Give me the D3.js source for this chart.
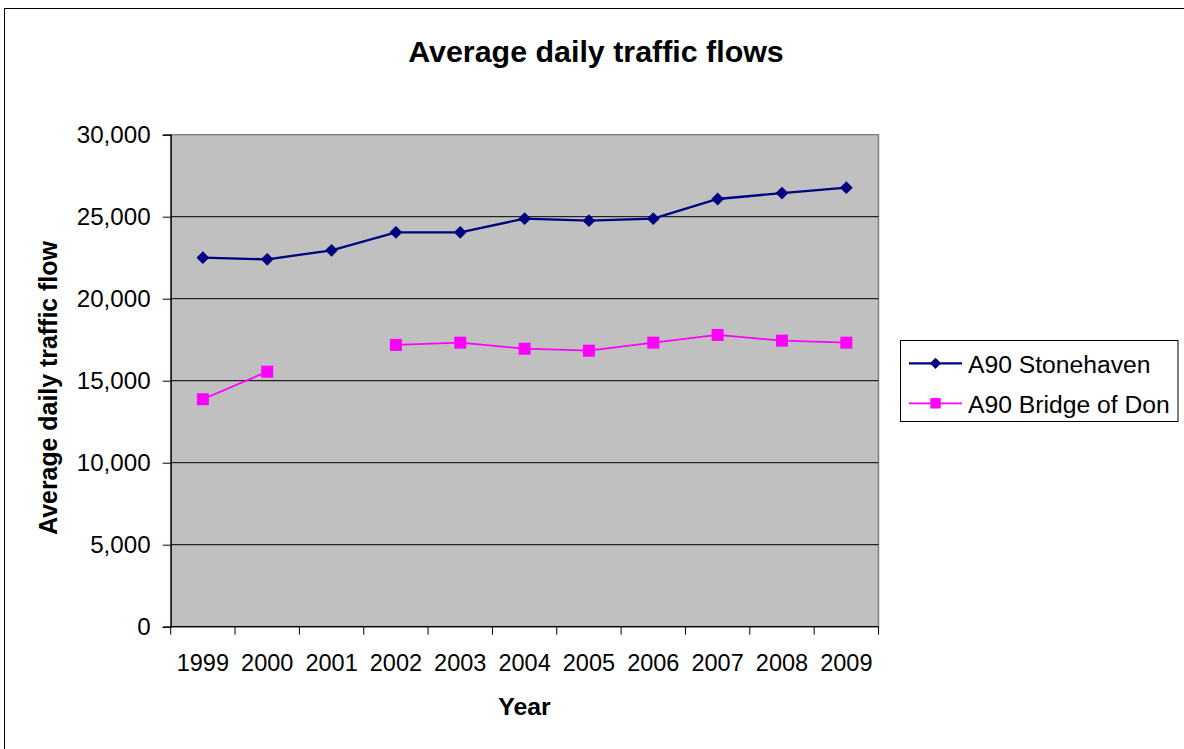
<!DOCTYPE html>
<html>
<head>
<meta charset="utf-8">
<script src="https://cdn.jsdelivr.net/npm/d3@7"></script>
<style>
  html, body { margin: 0; padding: 0; background: #fff; }
  svg { display: block; font-family: "Liberation Sans", Arial, sans-serif; }
</style>
</head>
<body>
<svg id="chart" width="1184" height="749"></svg>
<script>
const years = ["1999","2000","2001","2002","2003","2004","2005","2006","2007","2008","2009"];
const stonehaven = [22500, 22400, 22950, 24050, 24050, 24880, 24760, 24880, 26080, 26440, 26770];
const bridgeOfDon = [13870, 15550, null, 17180, 17320, 16950, 16830, 17320, 17790, 17440, 17320];
const yTicks = [0, 5000, 10000, 15000, 20000, 25000, 30000];
const seriesNames = ["A90 Stonehaven", "A90 Bridge of Don"];

const svg = d3.select("#chart");

// outer chart border (only top/left visible in the frame)
svg.append("rect").attr("x", 4.5).attr("y", 8.5).attr("width", 1300).attr("height", 900)
  .attr("fill", "none").attr("stroke", "#000").attr("stroke-width", 1);

const pL = 170.7, pR = 878.5, pT = 134.7, pB = 626.7;
const x = d3.scaleBand().domain(years).range([pL, pR]).padding(0);
const y = d3.scaleLinear().domain([0, 30000]).range([pB, pT]);

// plot background
svg.append("rect").attr("x", pL).attr("y", pT).attr("width", pR - pL).attr("height", pB - pT)
  .attr("fill", "#C0C0C0").attr("stroke", "#808080").attr("stroke-width", 1.5);

// gridlines
svg.append("g").selectAll("line").data(yTicks.filter(d => d > 0 && d < 30000)).join("line")
  .attr("x1", pL).attr("x2", pR)
  .attr("y1", d => y(d)).attr("y2", d => y(d))
  .attr("stroke", "#000").attr("stroke-width", 1);

// y axis
const yAxis = d3.axisLeft(y).tickValues(yTicks).tickFormat(d3.format(",")).tickSizeOuter(0).tickSize(8).tickPadding(12);
const gy = svg.append("g").attr("transform", `translate(${pL},0)`).call(yAxis);
gy.select(".domain").attr("stroke", "#000").attr("stroke-width", 1.2);
gy.selectAll(".tick line").attr("stroke", "#000");
gy.selectAll(".tick text").attr("font-size", 24.2).attr("fill", "#000")
  .attr("font-family", "'Liberation Sans', Arial, sans-serif").attr("dy", "0.34em");

// x axis
const gx = svg.append("g");
gx.append("line").attr("x1", pL).attr("x2", pR).attr("y1", pB).attr("y2", pB)
  .attr("stroke", "#000").attr("stroke-width", 1.2);
const tickPos = years.map(d => x(d)).concat([x.range()[1]]);
gx.selectAll("line.tk").data(tickPos).join("line").attr("class", "tk")
  .attr("x1", d => d).attr("x2", d => d).attr("y1", pB).attr("y2", pB + 8)
  .attr("stroke", "#000").attr("stroke-width", 1);
gx.selectAll("text").data(years).join("text")
  .attr("x", d => x(d) + x.bandwidth() / 2).attr("y", 671)
  .attr("text-anchor", "middle").attr("font-size", 23.5).attr("fill", "#000")
  .text(d => d);

// lines
const cx = (d, i) => x(years[i]) + x.bandwidth() / 2;
const line = d3.line().defined(d => d != null).x(cx).y(d => y(d));

svg.append("path").datum(bridgeOfDon).attr("d", line)
  .attr("fill", "none").attr("stroke", "#FF00FF").attr("stroke-width", 1.8);
svg.append("path").datum(stonehaven).attr("d", line)
  .attr("fill", "none").attr("stroke", "#000080").attr("stroke-width", 2.3);

const diamond = s => `M0,${-s}L${s},0L0,${s}L${-s},0Z`;
svg.append("g").selectAll("path").data(stonehaven).join("path")
  .attr("transform", (d, i) => `translate(${cx(d, i)},${y(d)})`)
  .attr("d", diamond(6.4)).attr("fill", "#000080");

const bd = bridgeOfDon.map((v, i) => ({v, i})).filter(d => d.v != null);
svg.append("g").selectAll("rect").data(bd).join("rect")
  .attr("x", d => cx(d.v, d.i) - 6).attr("y", d => y(d.v) - 6)
  .attr("width", 12).attr("height", 12).attr("fill", "#FF00FF");

// title
svg.append("text").attr("x", 596).attr("y", 61.5).attr("text-anchor", "middle")
  .attr("font-size", 30.4).attr("font-weight", "bold").attr("fill", "#000")
  .text("Average daily traffic flows");

// axis titles
svg.append("text").attr("transform", "translate(57,388) rotate(-90)").attr("text-anchor", "middle")
  .attr("font-size", 24.9).attr("font-weight", "bold").attr("fill", "#000")
  .text("Average daily traffic flow");
svg.append("text").attr("x", 524.5).attr("y", 715).attr("text-anchor", "middle")
  .attr("font-size", 24.8).attr("font-weight", "bold").attr("fill", "#000")
  .text("Year");

// legend
const lg = svg.append("g");
lg.append("rect").attr("x", 900.5).attr("y", 340.5).attr("width", 277.5).attr("height", 81)
  .attr("fill", "#fff").attr("stroke", "#000").attr("stroke-width", 1);
const legendRows = [
  {name: seriesNames[0], color: "#000080", ly: 363.3, marker: "diamond"},
  {name: seriesNames[1], color: "#FF00FF", ly: 403.3, marker: "square"}
];
legendRows.forEach(r => {
  lg.append("line").attr("x1", 909).attr("x2", 962).attr("y1", r.ly).attr("y2", r.ly)
    .attr("stroke", r.color).attr("stroke-width", r.marker === "diamond" ? 2.2 : 1.8);
  if (r.marker === "diamond") {
    lg.append("path").attr("transform", `translate(935.5,${r.ly})`).attr("d", diamond(5.6)).attr("fill", r.color);
  } else {
    lg.append("rect").attr("x", 935.5 - 5.2).attr("y", r.ly - 5.2).attr("width", 10.4).attr("height", 10.4).attr("fill", r.color);
  }
  lg.append("text").attr("x", 968).attr("y", r.ly + 9.2).attr("font-size", 24.7).attr("fill", "#000").text(r.name);
});
</script>
</body>
</html>
